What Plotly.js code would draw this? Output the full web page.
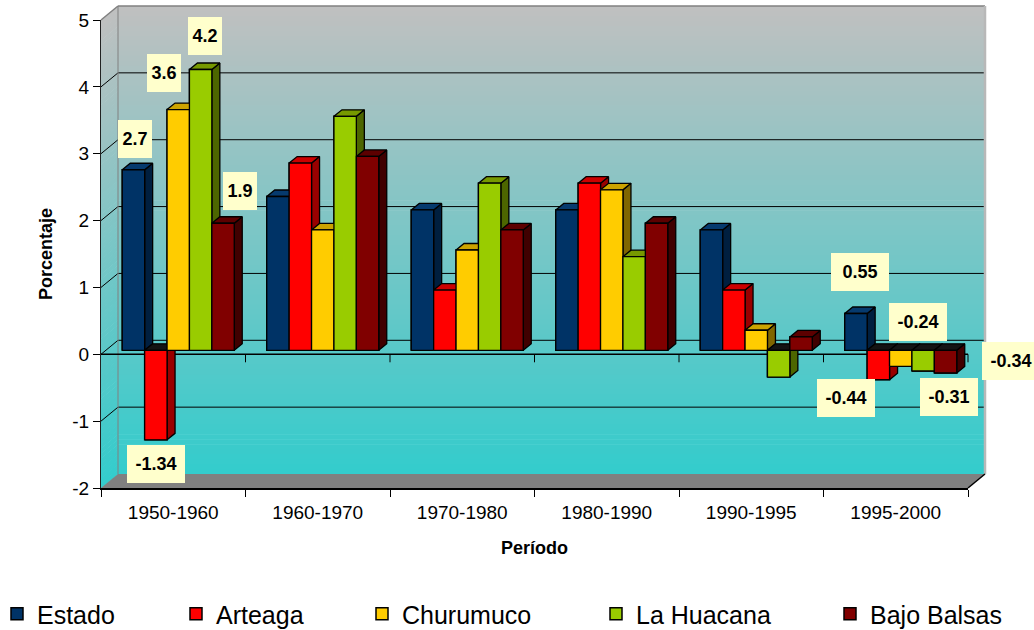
<!DOCTYPE html>
<html>
<head>
<meta charset="utf-8">
<script src="https://cdn.plot.ly/plotly-3.0.1.min.js"></script>
<style>html,body{margin:0;padding:0;background:#fff;}#chart{width:1034px;height:630px;}</style>
</head>
<body>
<div id="chart"></div>
<script>
// ---------------- data ----------------
const periods = ['1950-1960', '1960-1970', '1970-1980', '1980-1990', '1990-1995', '1995-2000'];
const seriesNames = ['Estado', 'Arteaga', 'Churumuco', 'La Huacana', 'Bajo Balsas'];
const estado     = [2.7, 2.3, 2.1, 2.1, 1.8, 0.55];
const arteaga    = [-1.34, 2.8, 0.9, 2.5, 0.9, -0.44];
const churumuco  = [3.6, 1.8, 1.5, 2.4, 0.3, -0.24];
const laHuacana  = [4.2, 3.5, 2.5, 1.4, -0.4, -0.31];
const bajoBalsas = [1.9, 2.9, 1.8, 1.9, 0.2, -0.34];
const yTicks = [-2, -1, 0, 1, 2, 3, 4, 5];
const yTickText = ['-2', '-1', '0', '1', '2', '3', '4', '5'];
const labelledPeriods = ['1950-1960', '1995-2000'];
const yTitle = 'Porcentaje';
const xTitle = 'Período';

// ---------------- style ----------------
const FONT = 'Liberation Sans, Arial, sans-serif';
const frontColors = ['#003366', '#FF0000', '#FFCC00', '#99CC00', '#800000'];
const topColors   = ['#063a6e', '#CC0000', '#CCA300', '#779900', '#5C0000'];
const sideColors  = ['#001F3F', '#990000', '#806600', '#4D6600', '#400000'];
const negTopColor = '#141414';
// label box offsets (px) from the bar end, per labelled period and series
const labelOffsets = {
  '1950-1960': [[1.5, 31], [0, -24.5], [-14, 37], [4.5, 33], [17, 32]],
  '1995-2000': [[4, 42], [-32.5, -18], [17, 44], [26, -26], [65.5, 12]]
};
const legendSquareCenters = [17, 196, 382, 616, 850];

// ---------------- geometry ----------------
const PL = 101, PR = 973, PT = 16, PB = 488;
const PW = PR - PL, PH = PB - PT;
const FW = 867, FH = 468;               // front plane size
const nCat = periods.length;
const catPx = FW / nCat;
const yMin = yTicks[0], yMax = yTicks[yTicks.length - 1];
const unitPx = FH / (yMax - yMin);
const WALL_DX = 17, WALL_DY = 14;
const BAR_SHIFT_X = 5, BAR_SHIFT_Y = 4;
const BARGAP = 0.225;
const nSer = seriesNames.length;
const bw = (1 - BARGAP) / nSer;
const ddx = 8 / catPx, ddy = 6.5 / unitPx;

const xp = px => (px - PL) / PW;
const yp = py => (PB - py) / PH;
const frontY = v => PB - (v - yMin) * unitPx;

const shapes = [];
function poly(pts, fill) {
  return {type: 'path', xref: 'paper', yref: 'paper', layer: 'below',
    path: 'M' + pts.map(p => xp(p[0]).toFixed(5) + ',' + yp(p[1]).toFixed(5)).join('L') + 'Z',
    fillcolor: fill, line: {width: 0}};
}
function seg(x0, y0, x1, y1, color, width) {
  return {type: 'line', xref: 'paper', yref: 'paper', layer: 'below',
    x0: xp(x0), y0: yp(y0), x1: xp(x1), y1: yp(y1), line: {color: color, width: width}};
}
const backL = PL + WALL_DX, backR = PL + FW + WALL_DX;
const topBack = frontY(yMax) - WALL_DY, botBack = frontY(yMin) - WALL_DY;

// gradient walls (left + back)
const NS = 94;
const c0 = [192, 192, 192], c1 = [51, 204, 204];
for (let k = 0; k < NS; k++) {
  const v0 = yMax - k * (yMax - yMin) / NS, v1 = yMax - (k + 1) * (yMax - yMin) / NS;
  const a = frontY(v0), b = frontY(v1) + 0.7;
  const t = (k + 0.5) / NS;
  const col = 'rgb(' + c0.map((c, i) => Math.round(c + (c1[i] - c) * t)).join(',') + ')';
  shapes.push(poly([[PL, a], [backL, a - WALL_DY], [backR, a - WALL_DY], [backR, b - WALL_DY], [backL, b - WALL_DY], [PL, b]], col));
}
// gridlines
yTicks.forEach(v => {
  if (v > yMin && v < yMax) {
    const fy = frontY(v);
    shapes.push(seg(PL, fy, backL, fy - WALL_DY, '#000', 1));
    shapes.push(seg(backL, fy - WALL_DY, backR, fy - WALL_DY, '#000', 1));
  }
});
// wall edges
shapes.push(seg(PL, frontY(yMax), backL, topBack, '#808080', 1.5));
shapes.push(seg(backL, topBack, backR, topBack, '#808080', 1.5));
shapes.push(seg(backL, topBack, backL, botBack, '#808080', 1));
shapes.push(seg(backR, topBack, backR, botBack, '#B8B8B8', 2.5));
// floor
shapes.push(poly([[PL, PB], [PL + FW, PB], [backR, botBack], [backL, botBack]], '#808080'));
shapes.push(seg(PL + FW, PB, backR, botBack, '#000', 1.5));
// zero (category) line with boundary ticks
shapes.push(seg(PL, frontY(0), PL + FW, frontY(0), '#000', 1.5));
for (let k = 1; k <= nCat; k++) {
  shapes.push(seg(PL + k * catPx, frontY(0), PL + k * catPx, frontY(0) + 8, '#000', 1));
}

// ---------------- traces ----------------
const seriesValues = [estado, arteaga, churumuco, laHuacana, bajoBalsas];
const traces = [];
traces.push({type: 'scatter', x: [], y: [], xaxis: 'x', yaxis: 'y', showlegend: false, hoverinfo: 'skip'});
seriesNames.forEach((name, j) => {
  traces.push({
    type: 'bar', name: name, x: periods, y: seriesValues[j], xaxis: 'x2', yaxis: 'y2',
    marker: {color: frontColors[j], line: {color: '#000', width: 1.5}},
    legend: j === 0 ? 'legend' : 'legend' + (j + 1), hoverinfo: 'skip'
  });
});
function face(xs, ys, fill) {
  traces.push({type: 'scatter', mode: 'lines', x: xs, y: ys, xaxis: 'x3', yaxis: 'y2',
    fill: 'toself', fillcolor: fill, line: {color: '#000', width: 1.3},
    showlegend: false, hoverinfo: 'skip'});
}
periods.forEach((p, i) => {
  seriesValues.forEach((vals, j) => {
    const v = vals[i];
    const xl = i - (1 - BARGAP) / 2 + j * bw, xr = xl + bw;
    const top = Math.max(v, 0), bot = Math.min(v, 0);
    face([xr, xr, xr + ddx, xr + ddx, xr], [bot, top, top + ddy, bot + ddy, bot], sideColors[j]);
    face([xl, xr, xr + ddx, xl + ddx, xl], [top, top, top + ddy, top + ddy, top], v < 0 ? negTopColor : topColors[j]);
    face([xl, xr, xr, xl, xl], [bot, bot, top, top, bot], frontColors[j]);
  });
});

// ---------------- data labels ----------------
const annotations = [];
labelledPeriods.forEach(p => {
  const i = periods.indexOf(p);
  seriesValues.forEach((vals, j) => {
    const v = vals[i];
    const txt = String(v);
    const off = labelOffsets[p][j];
    annotations.push({
      xref: 'x3', yref: 'y2', x: i - (1 - BARGAP) / 2 + (j + 0.5) * bw, y: v,
      text: txt, showarrow: false, xanchor: 'center', yanchor: 'middle',
      xshift: off[0], yshift: off[1],
      bgcolor: '#FFFFCC', borderpad: 0, borderwidth: 0,
      width: txt.length <= 3 ? 34 : 58, height: 38,
      font: {family: FONT, size: 18, color: '#000', weight: 700}
    });
  });
});

// ---------------- layout ----------------
const layout = {
  width: 1034, height: 630,
  margin: {l: PL, r: 1034 - PR, t: PT, b: 630 - PB, pad: 0, autoexpand: false},
  paper_bgcolor: '#FFFFFF', plot_bgcolor: 'rgba(0,0,0,0)',
  barmode: 'group', bargap: BARGAP, bargroupgap: 0,
  hovermode: false, showlegend: true,
  font: {family: FONT, color: '#000'},
  xaxis: {
    domain: [0, FW / PW], anchor: 'y', range: [-0.5, nCat - 0.5],
    tickvals: periods.map((p, i) => i), ticktext: periods, ticks: '',
    showline: true, linecolor: '#000', linewidth: 2, showgrid: false, zeroline: false,
    tickfont: {family: FONT, size: 19, color: '#000'}, ticklabelstandoff: 6,
    minor: {tickvals: periods.map((p, i) => i - 0.5).concat([nCat - 0.5]), ticks: 'outside', ticklen: 7, tickcolor: '#000', tickwidth: 1, showgrid: false},
    title: {text: xTitle, font: {family: FONT, size: 18, color: '#000', weight: 700}, standoff: 20}
  },
  yaxis: {
    domain: [0, FH / PH], anchor: 'x', range: [yMin, yMax], tickvals: yTicks, ticktext: yTickText,
    ticks: 'outside', ticklen: 7, tickcolor: '#000', tickwidth: 1,
    showline: true, linecolor: '#222', linewidth: 1, showgrid: false, zeroline: false,
    tickfont: {family: FONT, size: 19, color: '#000'},
    title: {text: yTitle, font: {family: FONT, size: 18, color: '#000', weight: 700}, standoff: 14}
  },
  xaxis2: {domain: [BAR_SHIFT_X / PW, 1], anchor: 'y2', type: 'category', range: [-0.5, nCat - 0.5], visible: false},
  yaxis2: {domain: [BAR_SHIFT_Y / PH, 1], anchor: 'x2', range: [yMin, yMax], visible: false},
  xaxis3: {overlaying: 'x2', anchor: 'y2', range: [-0.5, nCat - 0.5], visible: false},
  shapes: shapes,
  annotations: annotations
};
seriesNames.forEach((n, j) => {
  const key = j === 0 ? 'legend' : 'legend' + (j + 1);
  layout[key] = {
    x: xp(legendSquareCenters[j] - 20), xanchor: 'left', y: yp(614), yanchor: 'middle',
    orientation: 'h', bgcolor: 'rgba(0,0,0,0)', borderwidth: 0,
    font: {family: FONT, size: 25, color: '#000'}
  };
});

Plotly.newPlot('chart', traces, layout, {staticPlot: true, displayModeBar: false});
</script>
</body>
</html>
